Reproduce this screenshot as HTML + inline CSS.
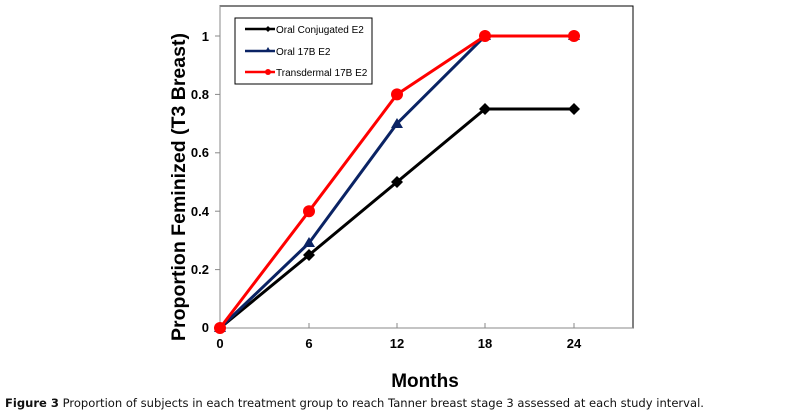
<!DOCTYPE html>
<html><head><style>body{margin:0;background:#fff;width:795px;height:414px;overflow:hidden}</style></head><body>
<svg width="795" height="414" xmlns="http://www.w3.org/2000/svg" font-family="Liberation Sans, Arial, sans-serif">
<rect x="220" y="6" width="413" height="322" fill="none" stroke="#000" stroke-width="1"/>
<line x1="220" y1="6" x2="220" y2="328" stroke="#888"/>
<line x1="220" y1="328" x2="633" y2="328" stroke="#888"/>
<g stroke="#888" stroke-width="1">
<line x1="215" y1="328" x2="220" y2="328"/><line x1="215" y1="269.6" x2="220" y2="269.6"/><line x1="215" y1="211.2" x2="220" y2="211.2"/><line x1="215" y1="152.8" x2="220" y2="152.8"/><line x1="215" y1="94.4" x2="220" y2="94.4"/><line x1="215" y1="36" x2="220" y2="36"/>
<line x1="309" y1="323" x2="309" y2="328"/><line x1="397" y1="323" x2="397" y2="328"/><line x1="485" y1="323" x2="485" y2="328"/><line x1="574" y1="323" x2="574" y2="328"/>
</g>
<g font-size="13" font-weight="bold" text-anchor="end">
<text x="209" y="332">0</text><text x="209" y="274">0.2</text><text x="209" y="216">0.4</text><text x="209" y="157">0.6</text><text x="209" y="99">0.8</text><text x="209" y="41">1</text>
</g>
<g font-size="13" font-weight="bold" text-anchor="middle">
<text x="220" y="348">0</text><text x="309" y="348">6</text><text x="397" y="348">12</text><text x="485" y="348">18</text><text x="574" y="348">24</text>
</g>
<text x="425" y="387" font-size="19" font-weight="bold" text-anchor="middle">Months</text>
<text transform="translate(185,187) rotate(-90)" font-size="19" font-weight="bold" text-anchor="middle" textLength="308" lengthAdjust="spacingAndGlyphs">Proportion Feminized (T3 Breast)</text>
<polyline points="220,328 309,255 397,182 485,109 574,109" fill="none" stroke="#000" stroke-width="3"/>
<g fill="#000"><path d="M220,322 l6,6 -6,6 -6,-6z"/><path d="M309,249 l6,6 -6,6 -6,-6z"/><path d="M397,176 l6,6 -6,6 -6,-6z"/><path d="M485,103 l6,6 -6,6 -6,-6z"/><path d="M574,103 l6,6 -6,6 -6,-6z"/></g>
<polyline points="220,328 309,243 397,123.6 485,36 574,36" fill="none" stroke="#0a2364" stroke-width="3"/>
<g fill="#0a2364"><path d="M220,322 l6,10 -12,0z"/><path d="M309,237 l6,10 -12,0z"/><path d="M397,118 l6,10 -12,0z"/><path d="M485,30 l6,10 -12,0z"/><path d="M574,30 l6,10 -12,0z"/></g>
<polyline points="220,328 309,211.2 397,94.4 485,36 574,36" fill="none" stroke="#f00" stroke-width="3"/>
<g fill="#f00"><circle cx="220" cy="328" r="6"/><circle cx="309" cy="211.2" r="6"/><circle cx="397" cy="94.4" r="6"/><circle cx="485" cy="36" r="6"/><circle cx="574" cy="36" r="6"/></g>
<rect x="235" y="18" width="137" height="66" fill="#fff" stroke="#000"/>
<g font-size="10">
<line x1="245" y1="29" x2="275" y2="29" stroke="#000" stroke-width="2.5"/><path d="M268,26 l3,3 -3,3 -3,-3z"/><text x="276" y="33">Oral Conjugated E2</text>
<line x1="245" y1="51" x2="275" y2="51" stroke="#0a2364" stroke-width="2.5"/><path d="M268,47 l3,5 -6,0z" fill="#0a2364"/><text x="276" y="55">Oral 17B E2</text>
<line x1="245" y1="72" x2="275" y2="72" stroke="#f00" stroke-width="2.5"/><circle cx="268" cy="72" r="3" fill="#f00"/><text x="276" y="76">Transdermal 17B E2</text>
</g>
<text x="5" y="407" font-size="11.5" font-family="DejaVu Sans, sans-serif" fill="#111" textLength="699" lengthAdjust="spacingAndGlyphs"><tspan font-weight="bold">Figure 3</tspan> Proportion of subjects in each treatment group to reach Tanner breast stage 3 assessed at each study interval.</text>
</svg>
</body></html>
